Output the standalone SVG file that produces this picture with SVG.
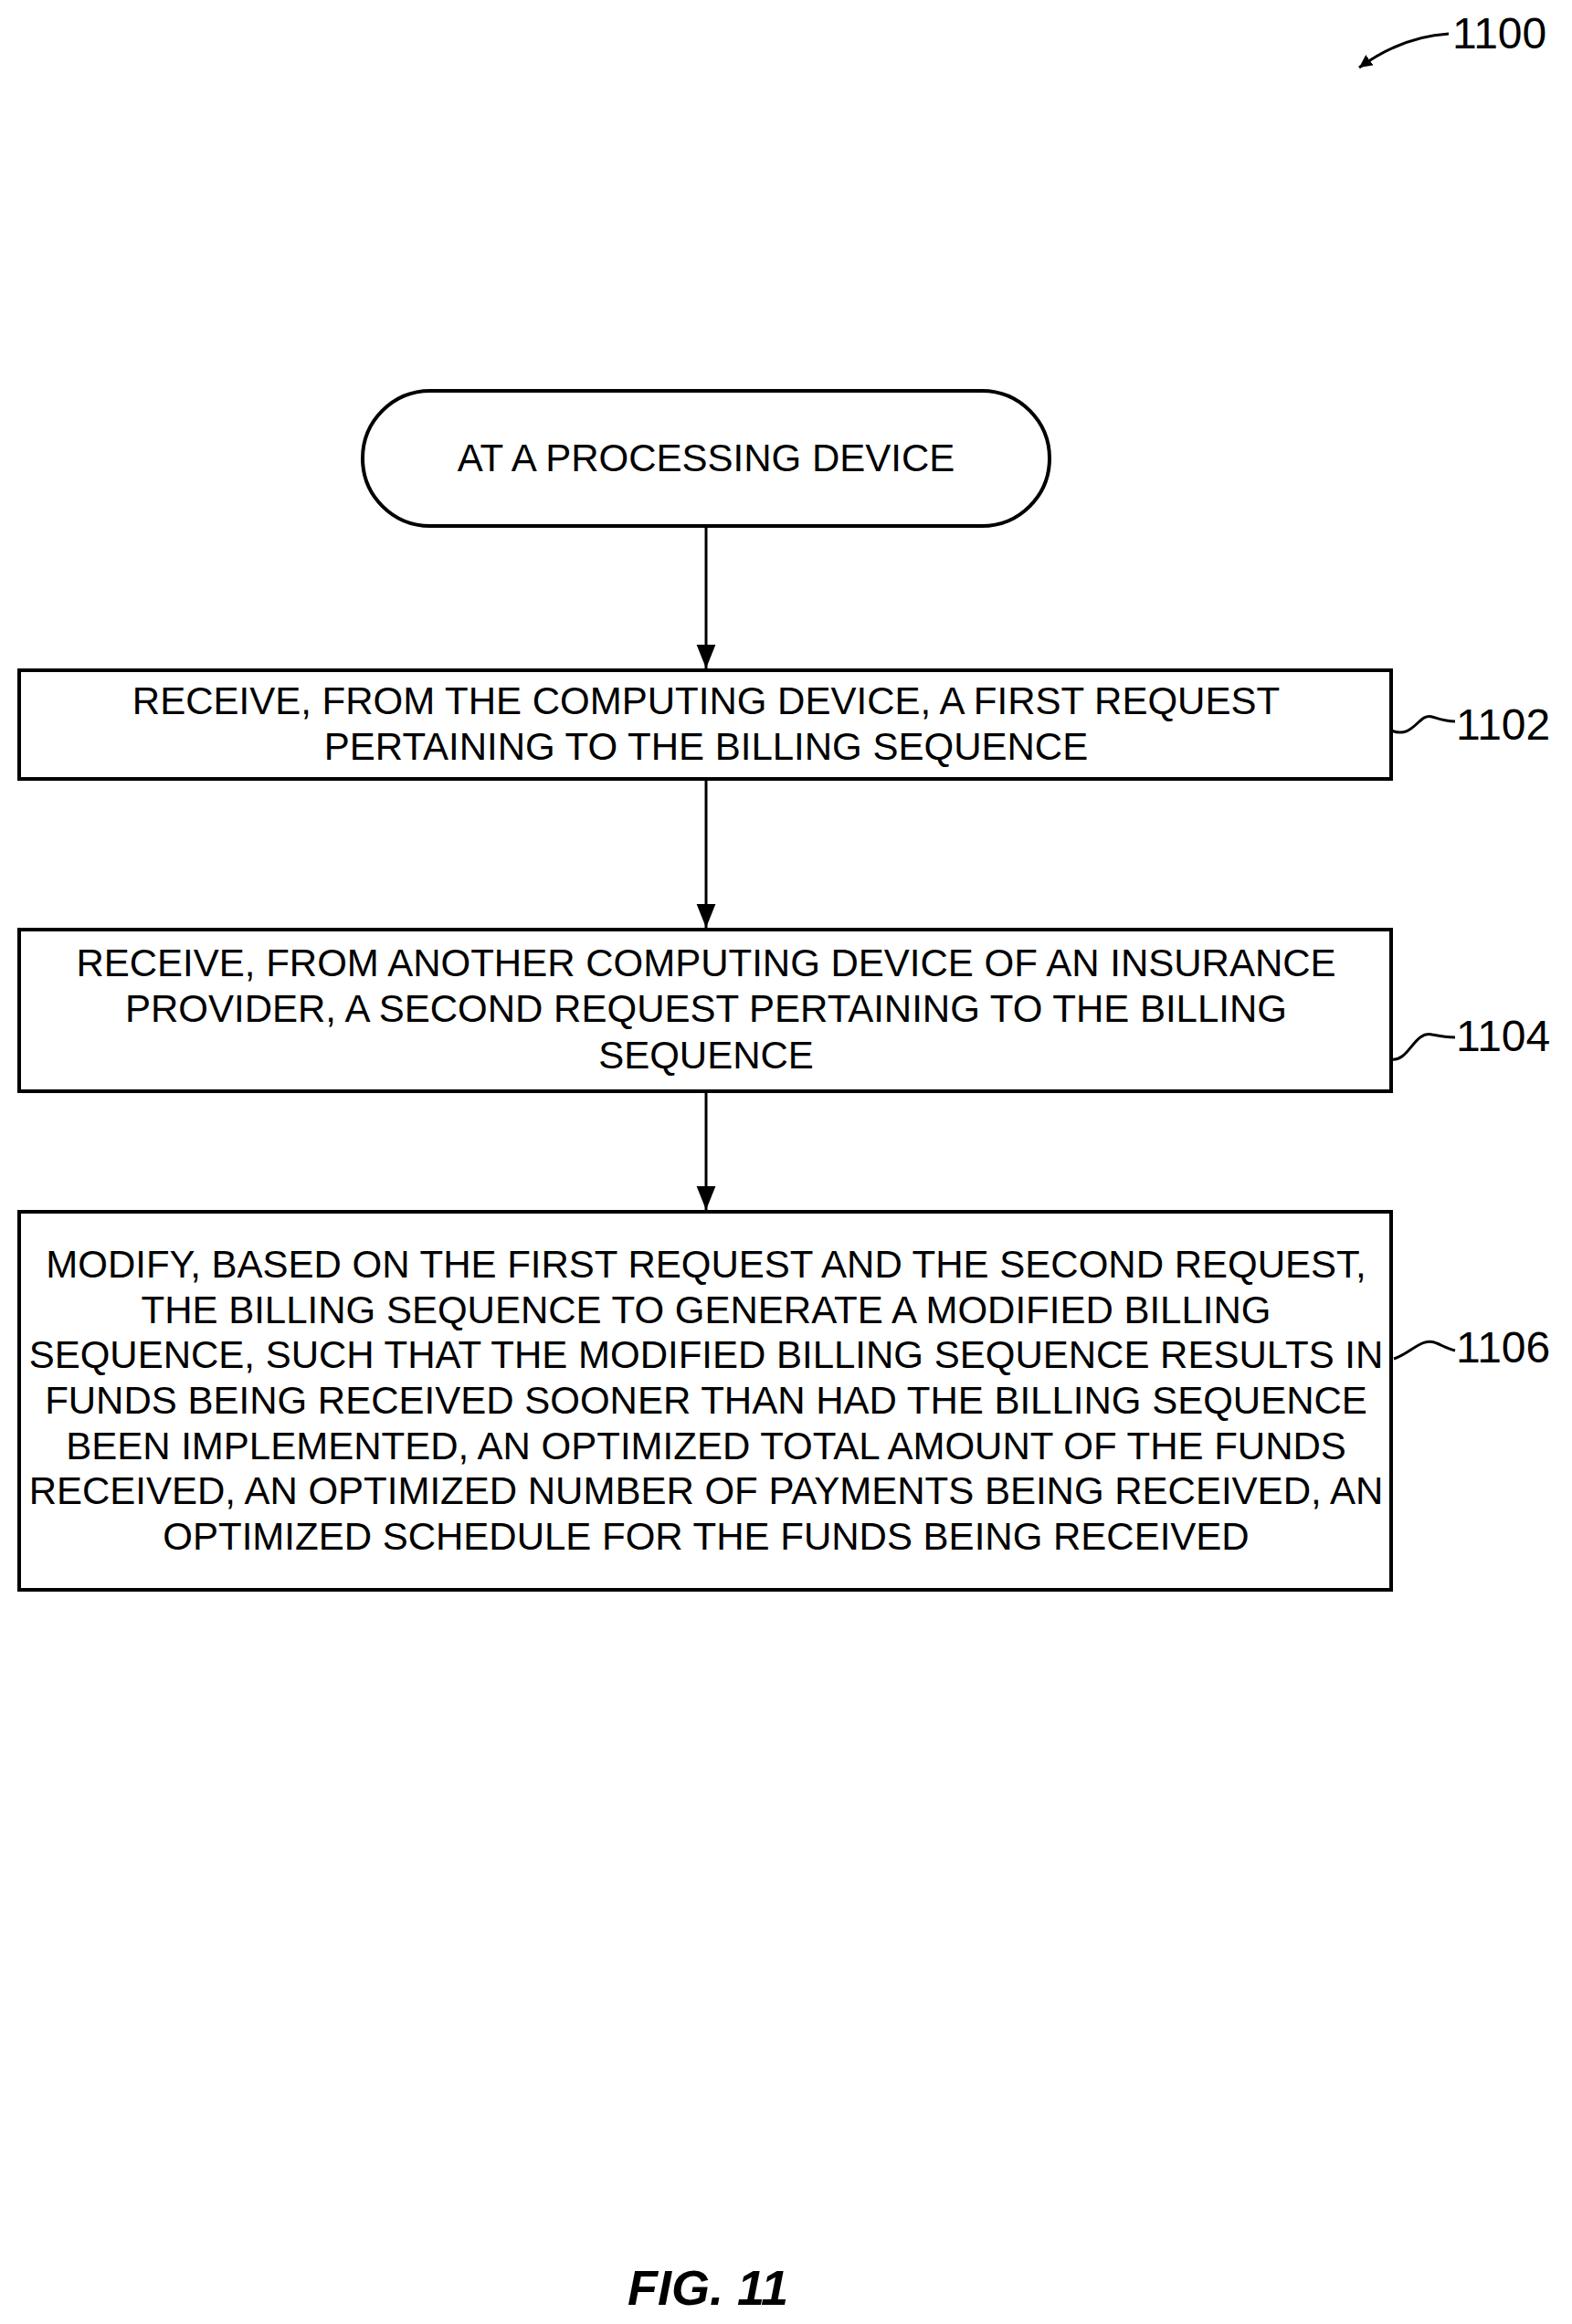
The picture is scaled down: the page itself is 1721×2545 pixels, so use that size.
<svg xmlns="http://www.w3.org/2000/svg" width="1721" height="2545" viewBox="0 0 1721 2545">
<style>
.b{fill:#fff;stroke:#000;stroke-width:4}
.t{font-family:"Liberation Sans",Arial,sans-serif;font-size:42px;text-anchor:middle;fill:#000}
.l{font-family:"Liberation Sans",Arial,sans-serif;font-size:48px;fill:#000}
.c{stroke:#000;stroke-width:3;fill:none}
</style>
<defs><marker id="a" markerWidth="14" markerHeight="14" refX="10" refY="5" orient="auto" markerUnits="userSpaceOnUse" viewBox="0 0 10 10"><path d="M0,0L10,5L0,10Z" fill="#000"/></marker>
<marker id="a2" markerWidth="26" markerHeight="26" refX="10" refY="5" orient="auto" markerUnits="userSpaceOnUse" viewBox="0 0 10 10"><path d="M0,1L10,5L0,9Z" fill="#000"/></marker></defs>
<rect width="1721" height="2545" fill="#fff"/>
<g id="ref1100"><text class="l" x="1590" y="53">1100</text><path class="c" d="M1586,37 Q1535,40 1488,74" marker-end="url(#a)"/></g>
<g id="start"><rect class="b" x="397" y="428" width="752" height="148" rx="74"/><text class="t" x="773" y="516">AT A PROCESSING DEVICE</text></g>
<g id="n1102"><rect class="b" x="21" y="734" width="1502" height="119"/>
<text class="t" x="773" y="782">RECEIVE, FROM THE COMPUTING DEVICE, A FIRST REQUEST</text>
<text class="t" x="773" y="832">PERTAINING TO THE BILLING SEQUENCE</text>
<path class="c" d="M1523,800 C1548,810 1553,780 1568,785 C1578,788 1583,790 1593,790"/><text class="l" x="1594" y="810">1102</text></g>
<g id="n1104"><rect class="b" x="21" y="1018" width="1502" height="177"/>
<text class="t" x="773" y="1069">RECEIVE, FROM ANOTHER COMPUTING DEVICE OF AN INSURANCE</text>
<text class="t" x="773" y="1119">PROVIDER, A SECOND REQUEST PERTAINING TO THE BILLING</text>
<text class="t" x="773" y="1170">SEQUENCE</text>
<path class="c" d="M1523,1160 C1543,1163 1548,1128 1568,1133 C1578,1135 1583,1136 1593,1136"/><text class="l" x="1594" y="1151">1104</text></g>
<g id="n1106"><rect class="b" x="21" y="1327" width="1502" height="414"/>
<text class="t" x="773" y="1399">MODIFY, BASED ON THE FIRST REQUEST AND THE SECOND REQUEST,</text>
<text class="t" x="773" y="1449">THE BILLING SEQUENCE TO GENERATE A MODIFIED BILLING</text>
<text class="t" x="773" y="1498">SEQUENCE, SUCH THAT THE MODIFIED BILLING SEQUENCE RESULTS IN</text>
<text class="t" x="773" y="1548">FUNDS BEING RECEIVED SOONER THAN HAD THE BILLING SEQUENCE</text>
<text class="t" x="773" y="1598">BEEN IMPLEMENTED, AN OPTIMIZED TOTAL AMOUNT OF THE FUNDS</text>
<text class="t" x="773" y="1647">RECEIVED, AN OPTIMIZED NUMBER OF PAYMENTS BEING RECEIVED, AN</text>
<text class="t" x="773" y="1697">OPTIMIZED SCHEDULE FOR THE FUNDS BEING RECEIVED</text>
<path class="c" d="M1526,1488 C1543,1483 1558,1463 1573,1471 C1580,1474 1585,1477 1593,1479"/><text class="l" x="1594" y="1492">1106</text></g>
<g id="connectors">
<line class="c" x1="773" y1="576" x2="773" y2="732" marker-end="url(#a2)"/>
<line class="c" x1="773" y1="853" x2="773" y2="1016" marker-end="url(#a2)"/>
<line class="c" x1="773" y1="1195" x2="773" y2="1325" marker-end="url(#a2)"/>
</g>
<text x="775" y="2524" style="font-family:'Liberation Sans',Arial,sans-serif;font-size:54px;font-weight:bold;font-style:italic;text-anchor:middle">FIG. 11</text>
</svg>
